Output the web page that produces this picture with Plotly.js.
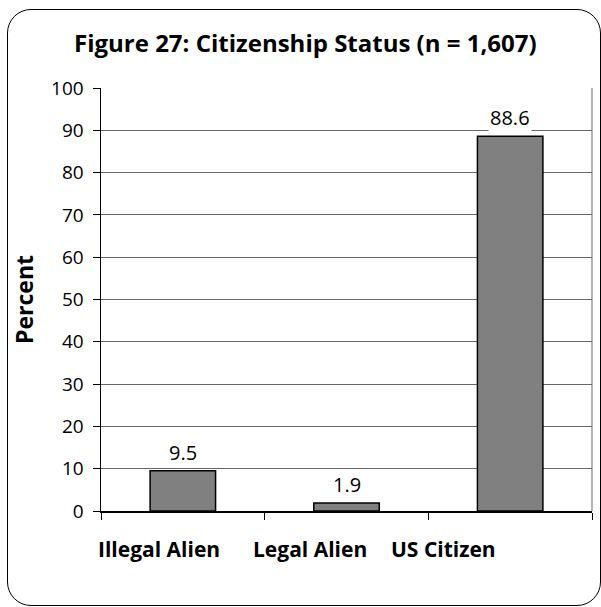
<!DOCTYPE html>
<html>
<head>
<meta charset="utf-8">
<script src="https://cdn.plot.ly/plotly-3.0.1.min.js"></script>
<style>
  html, body { margin: 0; padding: 0; background: #fff; }
  #wrap { position: relative; width: 601px; height: 607px; overflow: hidden; }
  #chart { position: absolute; left: 0; top: 0; width: 601px; height: 607px; }
  #frame { position: absolute; left: 7px; top: 9px; width: 594px; height: 597px;
           border: 1.5px solid #000; border-radius: 24px; box-sizing: border-box; pointer-events: none; }
</style>
</head>
<body>
<div id="wrap">
  <div id="chart"></div>
  <div id="frame"></div>
</div>
<script>
const categories = ["Illegal Alien", "Legal Alien", "US Citizen"];
const percents = [9.5, 1.9, 88.6];
const labels = ["9.5", "1.9", "88.6"];
const yTicks = [0, 10, 20, 30, 40, 50, 60, 70, 80, 90, 100];

const FONT = "'Open Sans', 'Noto Sans', 'DejaVu Sans', sans-serif";
// horizontal offsets of the category captions as drawn in the reference (they sit left of the bars)
const captionShift = [-24, -37, -67];

const trace = {
  type: "bar",
  x: categories,
  y: percents,
  width: 0.4,
  marker: { color: "#808080", line: { color: "#000", width: 1.5 } },
  hoverinfo: "skip"
};

const valueLabels = categories.map((c, i) => ({
  x: c, y: percents[i], xref: "x", yref: "y",
  text: labels[i], showarrow: false,
  yanchor: "bottom", yshift: 3,
  bgcolor: "#fff", borderpad: 1,
  font: { family: FONT, size: 20, color: "#000" }
}));

const captions = categories.map((c, i) => ({
  x: c, y: 0, xref: "x", yref: "paper",
  text: "<b>" + c + "</b>", showarrow: false,
  yanchor: "top", yshift: -22, xshift: captionShift[i],
  font: { family: FONT, size: 21, color: "#000" }
}));

const layout = {
  width: 601, height: 607,
  margin: { l: 101, r: 9, t: 88, b: 96, autoexpand: false },
  paper_bgcolor: "#fff", plot_bgcolor: "#fff",
  showlegend: false,
  title: {
    text: "<b>Figure 27: Citizenship Status (n = 1,607)</b>",
    font: { family: FONT, size: 24, color: "#000" },
    x: 0.508, xref: "container", y: 1 - 44 / 607, yref: "container", yanchor: "middle"
  },
  xaxis: {
    type: "category",
    automargin: false,
    range: [-0.5, 2.5],
    tickson: "boundaries",
    ticks: "outside", ticklen: 7, tickcolor: "#000", tickwidth: 1,
    showline: true, linecolor: "#000", linewidth: 1.5,
    showgrid: false, zeroline: false,
    showticklabels: false,
    fixedrange: true
  },
  yaxis: {
    range: [0, 100],
    automargin: false,
    tickvals: yTicks,
    ticks: "outside", ticklen: 7, tickcolor: "#000", tickwidth: 1,
    showline: true, linecolor: "#000", linewidth: 1.5,
    showgrid: true, gridcolor: "#666", gridwidth: 1,
    zeroline: false,
    ticklabelstandoff: 5,
    tickfont: { family: FONT, size: 19, color: "#000" },
    title: { text: "<b>Percent</b>", font: { family: FONT, size: 23, color: "#000" }, standoff: 11 },
    fixedrange: true
  },
  shapes: [
    { type: "line", xref: "paper", yref: "paper", x0: 1, x1: 1, y0: 0, y1: 1,
      line: { color: "#666", width: 1 } }
  ],
  annotations: valueLabels.concat(captions)
};

Plotly.newPlot("chart", [trace], layout, { displayModeBar: false, staticPlot: true });
</script>
</body>
</html>
